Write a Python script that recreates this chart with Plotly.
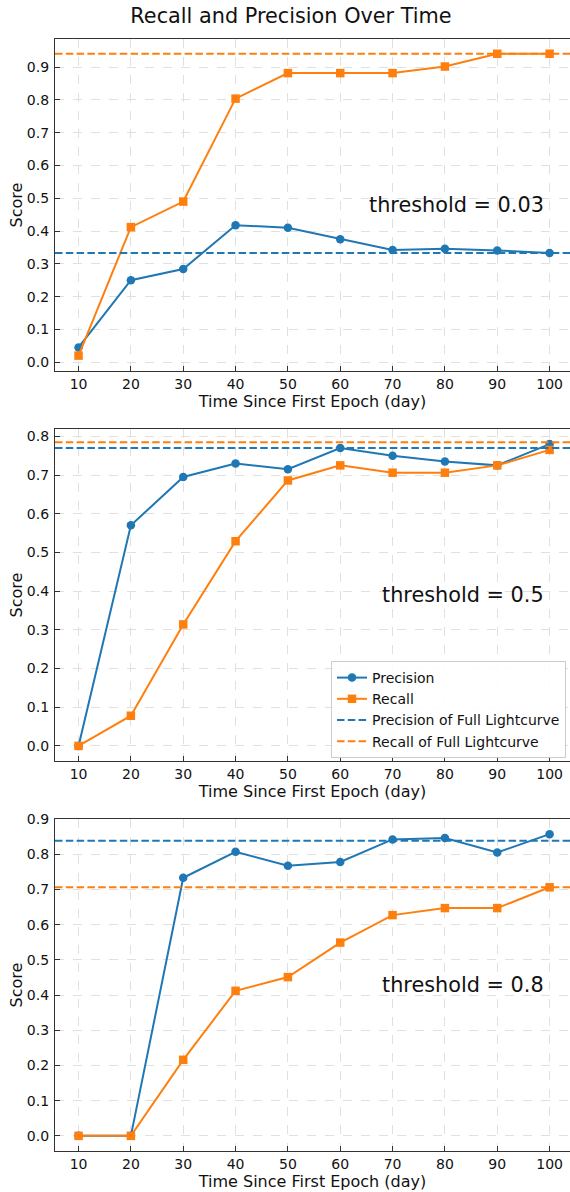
import plotly.graph_objects as go

days = [10, 20, 30, 40, 50, 60, 70, 80, 90, 100]
thresholds = ["0.03", "0.5", "0.8"]

precision_003 = [0.045, 0.250, 0.284, 0.418, 0.410, 0.375, 0.342, 0.346, 0.341, 0.333]
recall_003 = [0.020, 0.412, 0.490, 0.804, 0.882, 0.882, 0.882, 0.902, 0.941, 0.941]

precision_05 = [0.000, 0.570, 0.695, 0.730, 0.715, 0.770, 0.750, 0.735, 0.725, 0.780]
recall_05 = [0.000, 0.078, 0.314, 0.529, 0.686, 0.725, 0.706, 0.706, 0.725, 0.765]

precision_08 = [0.000, 0.000, 0.733, 0.807, 0.767, 0.778, 0.842, 0.846, 0.805, 0.857]
recall_08 = [0.000, 0.000, 0.216, 0.412, 0.451, 0.549, 0.627, 0.647, 0.647, 0.706]

full_precision = [0.333, 0.770, 0.838]
full_recall = [0.941, 0.785, 0.706]

precisions = [precision_003, precision_05, precision_08]
recalls = [recall_003, recall_05, recall_08]

y_tick_vals = [round(0.1 * i, 1) for i in range(10)]

BLUE = "#1f77b4"
ORANGE = "#ff7f0e"
W, H = 570, 1192
DASH = "7.5px,3.3px"
LW = 2

# panel pixel boxes (top, bottom)
panels_px = [(39, 371), (429, 761), (819, 1151)]
y_ranges = [(-0.027, 0.986), (-0.039, 0.819), (-0.043, 0.900)]

fig = go.Figure()
font_family = "DejaVu Sans"
TXT = "#111111"

for i in range(3):
    xa = "x" if i == 0 else f"x{i+1}"
    ya = "y" if i == 0 else f"y{i+1}"
    show = (i == 1)
    fig.add_trace(go.Scatter(
        x=days, y=precisions[i], mode="lines+markers", name="Precision",
        line=dict(color=BLUE, width=LW),
        marker=dict(symbol="circle", size=8.5, color=BLUE),
        xaxis=xa, yaxis=ya, showlegend=show, legendrank=1))
    fig.add_trace(go.Scatter(
        x=days, y=recalls[i], mode="lines+markers", name="Recall",
        line=dict(color=ORANGE, width=LW),
        marker=dict(symbol="square", size=8.5, color=ORANGE),
        xaxis=xa, yaxis=ya, showlegend=show, legendrank=2))
    fig.add_shape(type="line", xref=f"{xa} domain", yref=ya, x0=0, x1=1,
                  y0=full_precision[i], y1=full_precision[i],
                  line=dict(color=BLUE, width=LW, dash=DASH))
    fig.add_shape(type="line", xref=f"{xa} domain", yref=ya, x0=0, x1=1,
                  y0=full_recall[i], y1=full_recall[i],
                  line=dict(color=ORANGE, width=LW, dash=DASH))
    if show:
        fig.add_trace(go.Scatter(
            x=[None], y=[None], mode="lines", name="Precision of Full Lightcurve",
            line=dict(color=BLUE, width=LW, dash=DASH),
            xaxis=xa, yaxis=ya, showlegend=True, legendrank=3))
        fig.add_trace(go.Scatter(
            x=[None], y=[None], mode="lines", name="Recall of Full Lightcurve",
            line=dict(color=ORANGE, width=LW, dash=DASH),
            xaxis=xa, yaxis=ya, showlegend=True, legendrank=4))

    top, bot = panels_px[i]
    dom = [1 - bot / H, 1 - top / H]
    axis_common = dict(
        showline=True, linecolor="#333333", linewidth=1.2,
        ticks="inside", ticklen=5, tickwidth=1.1, tickcolor="#333333",
        showgrid=True, gridcolor="#e0e0e0", gridwidth=0.8, griddash="dash",
        zeroline=False, automargin=False,
        tickfont=dict(size=14, color=TXT, family=font_family),
    )
    fig.layout[f"xaxis{'' if i == 0 else i+1}"] = dict(
        axis_common, domain=[0, 1], anchor=ya, range=[5.5, 103.9],
        tickvals=days, mirror=True,
        title=dict(text="Time Since First Epoch (day)", standoff=2,
                   font=dict(size=16, color=TXT, family=font_family)),
    )
    fig.layout[f"yaxis{'' if i == 0 else i+1}"] = dict(
        axis_common, domain=dom, anchor=xa, range=list(y_ranges[i]),
        tickvals=y_tick_vals, tickformat=".1f", mirror=False,
        ticklabelstandoff=2,
        title=dict(text="Score", standoff=0,
                   font=dict(size=16, color=TXT, family=font_family)),
    )
    fig.add_annotation(
        text=f"threshold = {thresholds[i]}", xref=f"{xa} domain", yref=f"{ya} domain",
        x=(546 - 55) / 515, y=0.5, xanchor="right", yanchor="middle", showarrow=False,
        font=dict(size=20.8, color=TXT, family=font_family))

fig.update_layout(
    width=W, height=H,
    margin=dict(l=55, r=0, t=0, b=0, autoexpand=False),
    paper_bgcolor="white", plot_bgcolor="white",
    font=dict(family=font_family, color=TXT),
    title=dict(text="Recall and Precision Over Time", x=291 / W, xanchor="center",
               y=1 - 16 / H, yanchor="middle", xref="container", yref="container",
               automargin=False,
               font=dict(size=20.8, color=TXT, family=font_family)),
    legend=dict(x=(566 - 55) / 515, xanchor="right", y=1 - 758 / H, yanchor="bottom",
                bgcolor="rgba(255,255,255,0.9)", bordercolor="#cccccc", borderwidth=1,
                font=dict(size=14, color=TXT, family=font_family),
                tracegroupgap=0, itemwidth=30),
    showlegend=True,
)

fig.write_html(
    "out.html",
    config={"displayModeBar": False},
    post_script="document.body.style.margin='0';document.body.style.padding='0';"
                "document.body.style.overflow='hidden';"
                "document.documentElement.style.overflow='hidden';",
)
